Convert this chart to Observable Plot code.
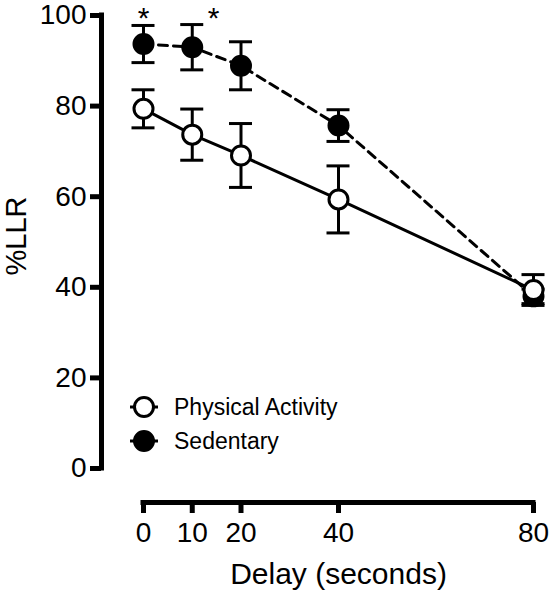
<!DOCTYPE html>
<html><head><meta charset="utf-8">
<script src="https://cdn.jsdelivr.net/npm/d3@7"></script>
<script src="https://cdn.jsdelivr.net/npm/@observablehq/plot@0.6"></script>
<style>body{margin:0;background:#fff}</style>
</head><body><div id="chart"></div>
<script>
const delays = [0, 10, 20, 40, 80];
const activityMean = [79.4, 73.7, 69.1, 59.4, 39.4];
const activitySem = [4.2, 5.65, 7.05, 7.4, 3.4];
const sedentaryMean = [93.7, 93.0, 88.9, 75.7, 38.0];
const sedentarySem = [4.1, 5.0, 5.3, 3.5, 1.6];
const xTicks = [0, 10, 20, 40, 80];
const yTicks = [0, 20, 40, 60, 80, 100];
const starDelays = [0, 14.4];
const groups = ["Physical Activity", "Sedentary"];
const xTitle = "Delay (seconds)";
const yTitle = "%LLR";

const activity = delays.map((d, i) => ({group: groups[0], delay: d, mean: activityMean[i], sem: activitySem[i]}));
const sedentary = delays.map((d, i) => ({group: groups[1], delay: d, mean: sedentaryMean[i], sem: sedentarySem[i]}));
const stars = starDelays.map(d => ({delay: d, y: yTicks[yTicks.length - 1]}));
const yMid = (yTicks[0] + yTicks[yTicks.length - 1]) / 2;
const xMid = (xTicks[0] + xTicks[xTicks.length - 1]) / 2;

const lo = d => d.mean - d.sem;
const hi = d => d.mean + d.sem;

function errorMarks(data) {
  return [
    Plot.ruleX(data, {x: "delay", y1: lo, y2: hi, stroke: "black", strokeWidth: 3}),
    Plot.ruleY(data, {x1: "delay", x2: "delay", y: lo, insetLeft: -11.5, insetRight: -11.5, stroke: "black", strokeWidth: 3}),
    Plot.ruleY(data, {x1: "delay", x2: "delay", y: hi, insetLeft: -11.5, insetRight: -11.5, stroke: "black", strokeWidth: 3})
  ];
}

function legendMark() {
  const g = d3.create("svg:g");
  const items = [{label: groups[0], fill: "white"}, {label: groups[1], fill: "black"}];
  items.forEach((it, i) => {
    const cy = 407 + i * 34;
    const row = g.append("g").attr("transform", `translate(144,${cy})`);
    row.append("line").attr("x1", -14).attr("x2", 14).attr("stroke", "black").attr("stroke-width", 3);
    row.append("circle").attr("r", 9.5).attr("fill", it.fill).attr("stroke", "black").attr("stroke-width", 3);
    row.append("text").attr("x", 30).attr("dy", "0.35em").attr("text-anchor", "start")
      .attr("font-size", 23).attr("fill", "black").text(it.label);
  });
  return g.node();
}

const chart = Plot.plot({
  width: 550,
  height: 600,
  marginLeft: 101,
  marginRight: 17,
  marginTop: 15,
  marginBottom: 132,
  style: {fontFamily: "'Liberation Sans', Arial, sans-serif", fontSize: "28px", background: "white", color: "black"},
  x: {domain: [xTicks[0], xTicks[xTicks.length - 1]], range: [143, 533]},
  y: {domain: [yTicks[0], yTicks[yTicks.length - 1]]},
  marks: [
    Plot.ruleX([xTicks[0]], {y1: yTicks[0], y2: yTicks[yTicks.length - 1], dx: -42, stroke: "black", strokeWidth: 5, strokeLinecap: "square"}),
    Plot.axisY({ticks: yTicks, tickSize: 11, tickPadding: 4, strokeWidth: 5, fontSize: 28, label: null}),
    Plot.ruleY([yTicks[0]], {x1: xTicks[0], x2: xTicks[xTicks.length - 1], dy: 34, stroke: "black", strokeWidth: 5, strokeLinecap: "square"}),
    Plot.axisX({ticks: xTicks, tickSize: 11, tickPadding: 9, strokeWidth: 5, fontSize: 28, dy: 34, label: null}),
    Plot.text([xTitle], {x: xMid, frameAnchor: "bottom", dy: 115, fontSize: 30, fill: "black"}),
    Plot.text([yTitle], {y: yMid, frameAnchor: "left", textAnchor: "middle", rotate: -90, dx: -85, dy: -6, fontSize: 29, fill: "black"}),
    Plot.line(sedentary, {x: "delay", y: "mean", stroke: "black", strokeWidth: 3, strokeDasharray: "9,6"}),
    Plot.line(activity, {x: "delay", y: "mean", stroke: "black", strokeWidth: 3}),
    ...errorMarks(sedentary),
    Plot.dot(sedentary, {x: "delay", y: "mean", r: 9.5, fill: "black", stroke: "black", strokeWidth: 3}),
    ...errorMarks(activity),
    Plot.dot(activity, {x: "delay", y: "mean", r: 9.5, fill: "white", stroke: "black", strokeWidth: 3}),
    Plot.text(stars, {x: "delay", y: "y", text: () => "*", fontSize: 30, dy: 2.5, fill: "black"}),
    legendMark
  ]
});
document.getElementById("chart").appendChild(chart);
</script>
</body></html>
